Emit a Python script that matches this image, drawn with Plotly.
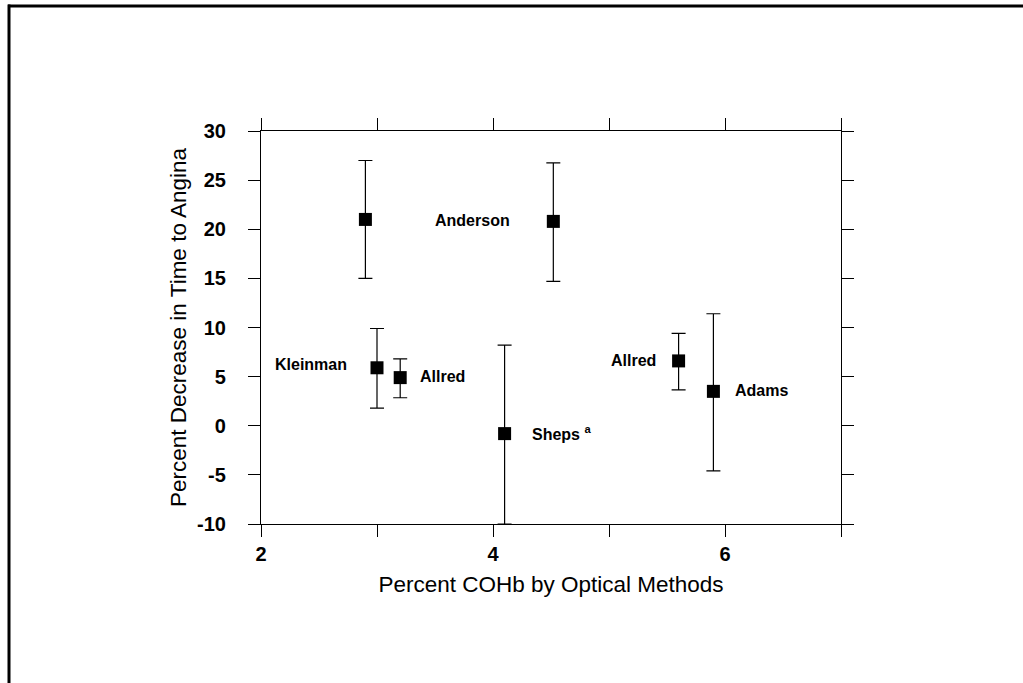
import plotly.graph_objects as go

# Data
cohb = [2.9, 4.52, 3.0, 3.2, 4.1, 5.6, 5.9]
decrease = [21.0, 20.8, 5.9, 4.9, -0.8, 6.6, 3.5]
upper = [27.0, 26.75, 9.9, 6.8, 8.2, 9.4, 11.4]
lower = [15.0, 14.7, 1.8, 2.85, -10.0, 3.65, -4.6]

label_text = ["Anderson", "Kleinman", "Allred", "Sheps <sup>a</sup>", "Allred", "Adams"]
label_x = [3.82, 2.76, 3.35, 4.32, 5.42, 6.07]
label_y = [20.9, 6.2, 5.05, -0.75, 6.65, 3.6]
label_anchor = ["center", "right", "left", "left", "right", "left"]

x_tickvals = [2, 4, 6]
x_ticktext = ["2", "4", "6"]
y_tickvals = [-10, -5, 0, 5, 10, 15, 20, 25, 30]
y_ticktext = ["-10", "-5", "0", "5", "10", "15", "20", "25", "30"]

err_plus = [u - v for u, v in zip(upper, decrease)]
err_minus = [v - l for v, l in zip(decrease, lower)]

FONT = "Liberation Sans, Arial, sans-serif"

fig = go.Figure()
fig.add_trace(go.Scatter(
    x=cohb, y=decrease, mode="markers",
    marker=dict(symbol="square", size=13, color="black"),
    error_y=dict(type="data", symmetric=False, array=err_plus, arrayminus=err_minus,
                 color="black", thickness=1.2, width=7),
    showlegend=False, hoverinfo="skip",
))

for t, lx, ly, a in zip(label_text, label_x, label_y, label_anchor):
    fig.add_annotation(x=lx, y=ly, text=t, showarrow=False, xanchor=a, yanchor="middle",
                       font=dict(family=FONT, size=16, color="black", weight="bold"))

axis_common = dict(
    showline=True, linecolor="black", linewidth=1.2, mirror="allticks",
    ticks="outside", ticklen=12, tickwidth=1.2, tickcolor="black",
    showgrid=False, zeroline=False,
    tickfont=dict(family=FONT, size=20, color="black", weight="bold"),
)

fig.update_xaxes(range=[2, 7], tickvals=x_tickvals, ticktext=x_ticktext,
                 ticklabelstandoff=0,
                 minor=dict(tick0=2, dtick=1, ticks="outside", ticklen=12, tickwidth=1.2,
                            tickcolor="black", showgrid=False),
                 title=dict(text="Percent COHb by Optical Methods", standoff=12,
                            font=dict(family=FONT, size=22.5, color="black")),
                 **axis_common)
fig.update_yaxes(range=[-10, 30], tickvals=y_tickvals, ticktext=y_ticktext,
                 ticklabelstandoff=18,
                 title=dict(text="Percent Decrease in Time to Angina", standoff=4,
                            font=dict(family=FONT, size=22.5, color="black")),
                 **axis_common)

W, H = 1023, 683
L, T = 261, 131
R = W - 841
B = H - 524
pw, ph = W - L - R, H - T - B


def px(xp):
    return (xp - L) / pw


def py(yp):
    return (H - B - yp) / ph


# outer frame (top and left edges)
fig.add_shape(type="line", xref="paper", yref="paper", x0=px(8), x1=px(W + 20), y0=py(6), y1=py(6),
              line=dict(color="black", width=3))
fig.add_shape(type="line", xref="paper", yref="paper", x0=px(9), x1=px(9), y0=py(4.5), y1=py(H + 20),
              line=dict(color="black", width=3))

fig.update_layout(
    width=W, height=H,
    margin=dict(l=L, r=R, t=T, b=B, autoexpand=False),
    paper_bgcolor="white", plot_bgcolor="white",
    font=dict(family=FONT, color="black"),
)

fig.write_html(
    "out.html",
    config={"displayModeBar": False},
    post_script="document.body.style.margin='0';document.body.style.overflow='hidden';",
)
